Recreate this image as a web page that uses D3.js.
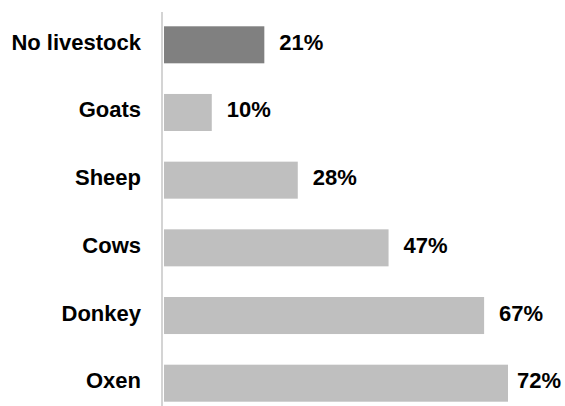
<!DOCTYPE html>
<html>
<head>
<meta charset="utf-8">
<script src="https://cdn.jsdelivr.net/npm/d3@7"></script>
<style>
  body { margin: 0; background: #fff; }
  svg text { font-family: "Liberation Sans", Arial, sans-serif; font-weight: bold; fill: #000; }
</style>
</head>
<body>
<div id="chart"></div>
<script>
// Chart data
const categories = ["No livestock", "Goats", "Sheep", "Cows", "Donkey", "Oxen"];
const values = [21, 10, 28, 47, 67, 72];
const highlight = ["No livestock"];

const W = 565, H = 406;
const margin = { top: 11, right: 57, bottom: -11, left: 164 };

const svg = d3.select("#chart")
    .append("svg")
    .attr("width", W)
    .attr("height", H);

// Scales
const y = d3.scaleBand()
    .domain(categories)
    .range([margin.top, H - margin.bottom])
    .paddingInner(0.453)
    .paddingOuter(0.226);

const x = d3.scaleLinear()
    .domain([0, d3.max(values)])
    .range([margin.left, W - margin.right]);

// Vertical axis line
svg.append("line")
    .attr("x1", margin.left - 2)
    .attr("x2", margin.left - 2)
    .attr("y1", 12)
    .attr("y2", H)
    .attr("stroke", "#d4d4d4")
    .attr("stroke-width", 2);

const data = categories.map((c, i) => ({ cat: c, val: values[i] }));

// Bars
svg.selectAll(".bar")
    .data(data)
    .enter()
    .append("rect")
    .attr("class", "bar")
    .attr("x", x(0))
    .attr("y", d => y(d.cat))
    .attr("width", d => x(d.val) - x(0))
    .attr("height", y.bandwidth())
    .attr("fill", d => highlight.includes(d.cat) ? "#808080" : "#bfbfbf");

// Category labels
svg.selectAll(".cat")
    .data(data)
    .enter()
    .append("text")
    .attr("class", "cat")
    .attr("x", 141)
    .attr("y", d => y(d.cat) + y.bandwidth() / 2 + 5)
    .attr("text-anchor", "end")
    .style("font-size", "22px")
    .text(d => d.cat);

// Value labels
svg.selectAll(".val")
    .data(data)
    .enter()
    .append("text")
    .attr("class", "val")
    .attr("y", d => y(d.cat) + y.bandwidth() / 2 + 5)
    .style("font-size", "22px")
    .text(d => d.val + "%")
    .attr("x", function(d) {
        const w = this.getComputedTextLength();
        return Math.min(x(d.val) + 15, W - 4 - w);
    });
</script>
</body>
</html>
